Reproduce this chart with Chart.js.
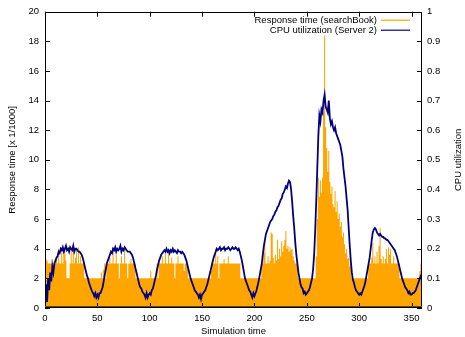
<!DOCTYPE html>
<html>
<head>
<meta charset="utf-8">
<script src="https://cdn.jsdelivr.net/npm/chart.js@4/dist/chart.umd.min.js"></script>
<style>
html,body{margin:0;padding:0;background:#fff;}
#c{display:block;}
</style>
</head>
<body>
<canvas id="c" width="465" height="337"></canvas>
<script>
// response time of searchBook, one value per simulation time step (x 1/1000)
const responseTime = [
5.2,3.3,3.2,3,3,3,3,3.3,3,3,
3,3.5,3,4,3,3,4.1,3,3.6,4,
3.2,2,2,2,3,4,3,4.1,3,3.4,
4,3,4.1,3,3.5,3,3,3,2,2,
2,2,2,2,2,2,2,2,2,2,
2,2,2,2,2.4,2,2.6,3,2,3,
3,3,3.4,3,3,4,3,3,3.6,3,
3,2,3,3.5,3,3,4.1,3,3,2,
3,3,3.3,3,3,3,3,2,2,2,
2,2,2,2,2,2,2,2,2,2,
2,2.5,2,2,2,2,2,3,2,3,
3,3,3.5,3,3,3.8,3,3,4,3,
3,3.4,3,3,2,3,3,3.5,3,3,
3,3,3,2.5,3,3,3,2,2,2,
2,2,2,2,2,2,2,2,2,2,
2,2,2,2,2,2,2,2,2,2.5,
3,3,3,4,3,3.5,2,3,3,3,
3,3.3,3,3,3,3.5,3,3,3,3,
3,3,3,3,3,3,3,2,2,2,
2,2,2,2,2,2,2,2,2,2,
2,2,2,2,2,2,2,3,3,3.7,
4.5,3,3,3.5,3,3.2,5.1,5,3.4,3,
3.6,3.2,4.6,3.3,4,3.5,4.5,3.8,4.2,4.6,
5.2,4,4.2,3.8,4.1,3.9,4,3.5,3.2,3,
3,3,2,2,2,2,2,2,2,2,
2,2,2,2,2,2,2,2,2,3.5,
6,8.8,7.5,8.6,7.8,8.8,13.2,18.4,12.2,10.8,
9.2,10.6,8.5,7.7,8.2,7,6.8,7.9,6.5,7.2,
6,6.4,5.5,5.8,4.8,5.1,4.3,3.7,4,3.3,
3.4,2.8,3,2,2,2,2,2,2,2,
2,2,2,2,2,2,2,2,2,3,
3,3,3.4,4.4,3,3.5,3,3.8,3,4.2,
5.4,3.3,3,3.5,3,3.3,4,3,4.1,3.6,
4,3,3,3.5,3,3,3,3,3,2,
2,2,2,2,2,2,2,2,2,2,
2,2,2,2,2,2,2,2,2.5,3,
2
];
// CPU utilization of server 2, same time steps
const cpuUtil = [
0.03,0.08,0.02,0.1,0.06,0.12,0.09,0.14,0.12,0.15,
0.16,0.17,0.175,0.19,0.185,0.2,0.195,0.205,0.19,0.2,
0.21,0.195,0.2,0.19,0.205,0.2,0.195,0.21,0.19,0.2,
0.2,0.195,0.19,0.19,0.185,0.18,0.17,0.155,0.14,0.125,
0.11,0.1,0.085,0.075,0.065,0.055,0.05,0.04,0.05,0.035,
0.045,0.035,0.05,0.05,0.06,0.07,0.09,0.11,0.13,0.15,
0.16,0.17,0.18,0.19,0.185,0.2,0.195,0.205,0.19,0.2,
0.195,0.2,0.21,0.19,0.2,0.195,0.205,0.2,0.195,0.19,
0.19,0.19,0.185,0.18,0.17,0.155,0.14,0.125,0.11,0.095,
0.08,0.07,0.065,0.055,0.05,0.045,0.035,0.05,0.035,0.045,
0.05,0.045,0.06,0.065,0.08,0.095,0.11,0.13,0.145,0.16,
0.17,0.18,0.185,0.19,0.195,0.19,0.2,0.19,0.195,0.185,
0.195,0.19,0.2,0.19,0.195,0.19,0.185,0.195,0.19,0.19,
0.185,0.19,0.185,0.18,0.17,0.16,0.145,0.13,0.115,0.1,
0.09,0.08,0.07,0.06,0.055,0.05,0.045,0.035,0.045,0.03,
0.045,0.05,0.055,0.06,0.07,0.08,0.095,0.11,0.125,0.14,
0.155,0.17,0.18,0.19,0.2,0.195,0.2,0.205,0.195,0.2,
0.2,0.205,0.195,0.2,0.2,0.205,0.2,0.195,0.2,0.205,
0.2,0.2,0.205,0.2,0.195,0.2,0.19,0.175,0.16,0.14,
0.12,0.1,0.09,0.08,0.07,0.06,0.055,0.045,0.035,0.05,
0.04,0.05,0.06,0.075,0.09,0.11,0.13,0.15,0.18,0.21,
0.23,0.25,0.26,0.27,0.28,0.29,0.295,0.3,0.31,0.315,
0.325,0.33,0.34,0.345,0.355,0.365,0.37,0.385,0.39,0.4,
0.41,0.405,0.42,0.43,0.425,0.4,0.36,0.31,0.27,0.22,
0.18,0.15,0.12,0.1,0.08,0.07,0.065,0.05,0.055,0.045,
0.05,0.055,0.06,0.07,0.085,0.1,0.13,0.18,0.26,0.36,
0.47,0.58,0.65,0.63,0.67,0.66,0.7,0.72,0.68,0.67,
0.66,0.7,0.64,0.62,0.63,0.61,0.6,0.61,0.59,0.58,
0.57,0.56,0.55,0.53,0.51,0.47,0.44,0.41,0.37,0.33,
0.27,0.21,0.16,0.12,0.095,0.085,0.07,0.06,0.055,0.05,
0.045,0.05,0.045,0.055,0.065,0.075,0.09,0.11,0.13,0.15,
0.17,0.2,0.23,0.255,0.265,0.27,0.265,0.255,0.25,0.245,
0.25,0.245,0.24,0.24,0.235,0.235,0.23,0.23,0.225,0.22,
0.215,0.21,0.205,0.2,0.195,0.185,0.175,0.16,0.145,0.13,
0.115,0.1,0.09,0.08,0.07,0.065,0.06,0.05,0.055,0.045,
0.045,0.05,0.05,0.055,0.06,0.07,0.08,0.09,0.1,0.11,
0.11
];
const seriesNames = ['Response time (searchBook)', 'CPU utilization (Server 2)'];
const xTicks = [0, 50, 100, 150, 200, 250, 300, 350];
const yTicks = ['0','2','4','6','8','10','12','14','16','18','20'];
const y2Ticks = ['0','0.1','0.2','0.3','0.4','0.5','0.6','0.7','0.8','0.9','1'];
const axisTitles = ['Simulation time', 'Response time [x 1/1000]', 'CPU utilization'];

const FONT = '"Liberation Sans", Arial, sans-serif';
const FS = 9.5;

const respPts = responseTime.map((v, i) => ({x: i, y: v}));
const cpuPts = cpuUtil.map((v, i) => ({x: i, y: v}));

const gnuFrame = {
  id: 'gnuFrame',
  afterDatasetsDraw(chart){
    const ctx = chart.ctx, a = chart.chartArea, s = chart.scales;
    ctx.save();
    ctx.strokeStyle = '#000';
    ctx.lineWidth = 1;
    ctx.beginPath();
    // inward tick marks
    s.x.ticks.forEach(t => {
      const px = Math.round(s.x.getPixelForValue(t.value)) + 0.5;
      ctx.moveTo(px, a.bottom); ctx.lineTo(px, a.bottom - 5);
      ctx.moveTo(px, a.top); ctx.lineTo(px, a.top + 5);
    });
    s.y.ticks.forEach(t => {
      const py = Math.round(s.y.getPixelForValue(t.value)) + 0.5;
      ctx.moveTo(a.left, py); ctx.lineTo(a.left + 5, py);
    });
    s.y1.ticks.forEach(t => {
      const py = Math.round(s.y1.getPixelForValue(t.value)) + 0.5;
      ctx.moveTo(a.right, py); ctx.lineTo(a.right - 5, py);
    });
    ctx.stroke();
    ctx.strokeRect(Math.round(a.left) + 0.5, Math.round(a.top) + 0.5,
      Math.round(a.right - a.left) - 1, Math.round(a.bottom - a.top) - 1);
    // darker base line where the bars sit
    ctx.strokeStyle = '#6b4a10';
    ctx.beginPath();
    ctx.moveTo(a.left, Math.round(a.bottom) - 1.5); ctx.lineTo(a.right, Math.round(a.bottom) - 1.5);
    ctx.stroke();

    // key, gnuplot style: text then sample line
    ctx.font = FS + 'px ' + FONT;
    ctx.fillStyle = '#000';
    ctx.textAlign = 'right';
    ctx.textBaseline = 'middle';
    chart.data.datasets.forEach((d, i) => {
      const y = a.top + 8.5 + i * 10;
      ctx.fillText(d.label, a.right - 45, y);
      ctx.strokeStyle = d.borderColor === 'transparent' ? d.backgroundColor : d.borderColor;
      ctx.lineWidth = 1.2;
      ctx.beginPath();
      ctx.moveTo(a.right - 41, y); ctx.lineTo(a.right - 12, y);
      ctx.stroke();
    });

    // axis titles
    ctx.fillStyle = '#000';
    ctx.textAlign = 'center';
    ctx.textBaseline = 'middle';
    ctx.fillText(axisTitles[0], (a.left + a.right) / 2, 331);
    const cy = (a.top + a.bottom) / 2;
    ctx.save();
    ctx.translate(12, cy);
    ctx.rotate(-Math.PI / 2);
    ctx.fillText(axisTitles[1], 0, 0);
    ctx.restore();
    ctx.save();
    ctx.translate(458, cy);
    ctx.rotate(-Math.PI / 2);
    ctx.fillText(axisTitles[2], 0, 0);
    ctx.restore();
    ctx.restore();
  }
};

new Chart(document.getElementById('c'), {
  type: 'line',
  data: {
    datasets: [
      { label: seriesNames[0], data: respPts, yAxisID: 'y', order: 2,
        backgroundColor: '#ffa500', borderColor: 'transparent', borderWidth: 0,
        fill: 'origin', stepped: 'middle', pointRadius: 0 },
      { label: seriesNames[1], data: cpuPts, yAxisID: 'y1', order: 1,
        borderColor: '#000080', borderWidth: 1.8, fill: false, tension: 0, pointRadius: 0 }
    ]
  },
  options: {
    responsive: false,
    animation: false,
    devicePixelRatio: 1,
    layout: { padding: { top: 10, left: 0, right: 0, bottom: 0 } },
    plugins: { legend: { display: false }, tooltip: { enabled: false } },
    scales: {
      x: {
        type: 'linear', min: 0, max: 360,
        afterBuildTicks: sc => { sc.ticks = xTicks.map(v => ({value: v})); },
        afterFit: sc => { sc.height = 29; },
        grid: { display: false, drawTicks: false },
        border: { display: false },
        ticks: { color: '#000', font: { family: FONT, size: FS }, padding: 5, maxRotation: 0 }
      },
      y: {
        position: 'left', min: 0, max: 20,
        afterBuildTicks: sc => { sc.ticks = yTicks.map(v => ({value: +v})); },
        afterFit: sc => { sc.width = 45; },
        grid: { display: false, drawTicks: false },
        border: { display: false },
        ticks: { color: '#000', font: { family: FONT, size: FS }, padding: 6,
          callback: (v, i) => yTicks[i] }
      },
      y1: {
        position: 'right', min: 0, max: 1,
        afterBuildTicks: sc => { sc.ticks = y2Ticks.map(v => ({value: +v})); },
        afterFit: sc => { sc.width = 43; },
        grid: { display: false, drawTicks: false },
        border: { display: false },
        ticks: { color: '#000', font: { family: FONT, size: FS }, padding: 5,
          callback: (v, i) => y2Ticks[i] }
      }
    }
  },
  plugins: [gnuFrame]
});
</script>
</body>
</html>
